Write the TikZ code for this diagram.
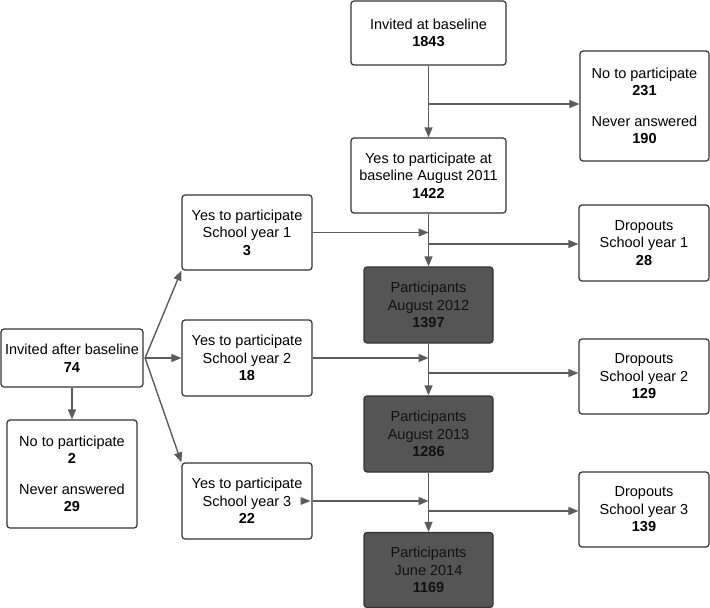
\documentclass[tikz,border=0pt]{standalone}
\usepackage{fontspec}
\setmainfont{Liberation Sans}
\usetikzlibrary{arrows.meta,calc}
\definecolor{linec}{HTML}{5C5C5C}
\definecolor{edgec}{HTML}{333333}
\definecolor{darkfill}{HTML}{555555}
\definecolor{darktext}{HTML}{111111}
\tikzset{
  box/.style={draw=edgec, line width=1.2pt, rounded corners=3pt, fill=white,
    align=center, inner sep=0pt, font=\fontsize{14.5}{17.5}\selectfont, text=black},
  darkbox/.style={box, fill=darkfill, text=darktext},
  arr/.style={draw=linec, line width=1.4pt, -{Triangle[length=10pt,width=8pt]}},
}
\begin{document}
\begin{tikzpicture}[x=1pt,y=-1pt]
\useasboundingbox (0,0) rectangle (710,608);
% boxes
\node[box, minimum width=155pt, minimum height=64pt] (ib) at (428.5,33) {Invited at baseline\\\textbf{1843}};
\node[box, minimum width=129pt, minimum height=110pt] (no1) at (644.5,106) {No to participate\\\textbf{231}\\[13pt]Never answered\\\textbf{190}};
\node[box, minimum width=155pt, minimum height=75pt] (yb) at (428.5,175.5) {Yes to participate at\\baseline August 2011\\\textbf{1422}};
\node[box, minimum width=130pt, minimum height=75pt] (sy1) at (247,232.5) {Yes to participate\\School year 1\\\textbf{3}};
\node[box, minimum width=130pt, minimum height=76pt] (d1) at (644,243) {Dropouts\\School year 1\\\textbf{28}};
\node[darkbox, minimum width=129pt, minimum height=76pt] (p12) at (428.5,305) {Participants\\August 2012\\\textbf{1397}};
\node[box, minimum width=142pt, minimum height=58pt] (iab) at (72,358) {Invited after baseline\\\textbf{74}};
\node[box, minimum width=130pt, minimum height=76pt] (sy2) at (247,358) {Yes to participate\\School year 2\\\textbf{18}};
\node[box, minimum width=130pt, minimum height=75pt] (d2) at (644,376.5) {Dropouts\\School year 2\\\textbf{129}};
\node[darkbox, minimum width=129pt, minimum height=76pt] (p13) at (428.5,434) {Participants\\August 2013\\\textbf{1286}};
\node[box, minimum width=130pt, minimum height=108pt] (no2) at (72,474) {No to participate\\\textbf{2}\\[13pt]Never answered\\\textbf{29}};
\node[box, minimum width=130pt, minimum height=76pt] (sy3) at (247,501) {Yes to participate\\School year 3\\\textbf{22}};
\node[box, minimum width=130pt, minimum height=75pt] (d3) at (644,509.5) {Dropouts\\School year 3\\\textbf{139}};
\node[darkbox, minimum width=129pt, minimum height=75pt] (p14) at (428.5,570) {Participants\\June 2014\\\textbf{1169}};
% junction coordinates
\coordinate (j1) at (428.5,104);
\coordinate (j2) at (428.5,244);
\coordinate (j3) at (428.5,373);
\coordinate (j4) at (428.5,511);
% main column
\draw[arr] (ib.south) -- (yb.north);
\draw[arr] (j1) -- (j1 -| no1.west);
\draw[arr] (yb.south) -- (p12.north);
\draw[arr] (j2) -- (j2 -| d1.west);
\draw[arr] (p12.south) -- (p13.north);
\draw[arr] (j3) -- (j3 -| d2.west);
\draw[arr] (p13.south) -- (p14.north);
\draw[arr] (j4) -- (j4 -| d3.west);
% school year arrows into the main column
\draw[arr] (sy1.east) -- (sy1.east -| yb.south);
\draw[arr] (sy2.east) -- (sy2.east -| p12.south);
\draw[arr] (sy3.east) -- (sy3.east -| p13.south);
\fill[linec] ($(sy3.east)+(-12,-4)$) -- ($(sy3.east)+(-2,0)$) -- ($(sy3.east)+(-12,4)$) -- cycle;
% invited after baseline fan
\coordinate (fan) at ($(iab.east)+(1.5,0)$);
\draw[arr] (fan) -- (sy1.south west);
\draw[arr] (fan) -- (sy2.west);
\draw[arr] (fan) -- (sy3.north west);
\draw[arr] (iab.south) -- (no2.north);
\end{tikzpicture}
\end{document}
